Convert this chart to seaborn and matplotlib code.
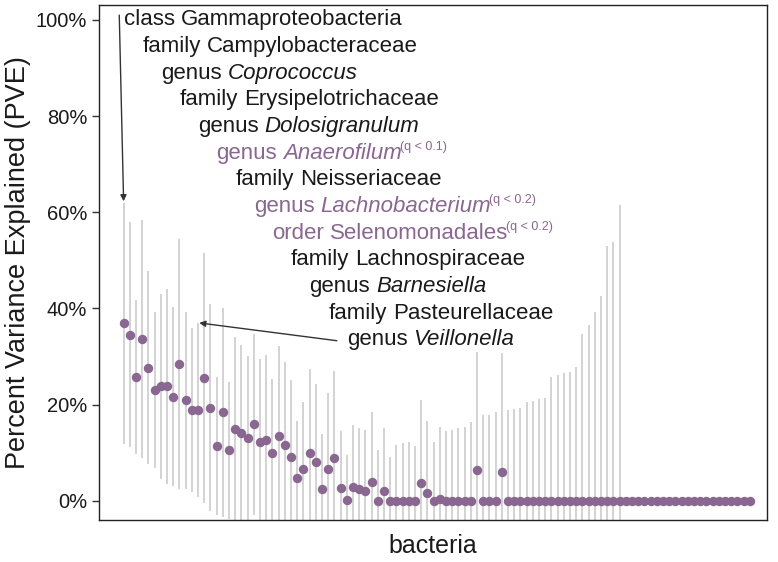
import seaborn as sns
import matplotlib.pyplot as plt
import pandas as pd
import numpy as np

# PVE point estimates (%) for each bacterium, sorted as in the figure
pve = [36.9, 34.5, 25.8, 33.6, 27.7, 23.1, 23.8, 23.8, 21.7, 28.5,
       20.9, 18.9, 18.9, 25.6, 19.4, 11.4, 18.4, 10.5, 15.0, 14.2,
       13.0, 15.9, 12.3, 12.7, 10.0, 13.4, 11.6, 9.2, 4.8, 6.7,
       10.0, 8.0, 2.4, 6.6, 9.0, 2.6, 0.1, 2.8, 2.4, 2.1,
       4.0, 0.0, 2.1, 0.0, 0.0, 0.0, 0.0, 0.0, 3.8, 1.6,
       0.0, 0.35, 0.0, 0.0, 0.0, 0.0, 0.0, 6.4, 0.0, 0.0,
       0.0, 6.0, 0.0, 0.0, 0.0, 0.0, 0.0, 0.0, 0.0, 0.0,
       0.0, 0.0, 0.0, 0.0, 0.0, 0.0, 0.0, 0.0, 0.0, 0.0,
       0.0, 0.0, 0.0, 0.0, 0.0, 0.0, 0.0, 0.0, 0.0, 0.0,
       0.0, 0.0, 0.0, 0.0, 0.0, 0.0, 0.0, 0.0, 0.0, 0.0,
       0.0, 0.0]

# half-width of the interval (%) for the first bacteria (the rest have none)
ci_half = [25.0, 23.4, 16.0, 24.7, 20.1, 16.2, 19.2, 20.2, 18.7, 26.0,
           18.4, 17.1, 18.1, 26.0, 21.5, 14.3, 21.8, 14.3, 19.0, 18.2,
           17.2, 18.8, 17.2, 17.7, 15.4, 18.7, 17.2, 16.0, 11.9, 13.9,
           17.4, 16.3, 11.5, 15.8, 18.1, 12.0, 9.5, 12.9, 12.7, 12.7,
           14.4, 10.5, 13.0, 9.1, 11.6, 12.0, 12.3, 11.5, 17.1, 15.1,
           12.3, 15.0, 14.6, 14.8, 15.1, 15.3, 16.5, 24.5, 17.9, 17.9,
           18.4, 24.7, 18.9, 19.1, 19.4, 20.6, 20.8, 21.1, 21.3, 25.7,
           26.1, 26.5, 26.7, 27.9, 34.7, 36.6, 39.2, 42.6, 52.9, 53.8,
           61.5]

# labelled taxa (top ranked)
label_rank = ["class", "family", "genus", "family", "genus", "genus", "family",
              "genus", "order", "family", "genus", "family", "genus"]
label_name = ["Gammaproteobacteria", "Campylobacteraceae", "Coprococcus",
              "Erysipelotrichaceae", "Dolosigranulum", "Anaerofilum",
              "Neisseriaceae", "Lachnobacterium", "Selenomonadales",
              "Lachnospiraceae", "Barnesiella", "Pasteurellaceae", "Veillonella"]
label_q = ["", "", "", "", "", "(q < 0.1)", "", "(q < 0.2)", "(q < 0.2)",
           "", "", "", ""]

purple = "#8a6790"
dark = "#1a1a1a"

df = pd.DataFrame({"bacteria": np.arange(len(pve)), "pve": pve})
n_ci = len(ci_half)
lo = df["pve"][:n_ci] - np.array(ci_half)
hi = df["pve"][:n_ci] + np.array(ci_half)

sns.set_theme(style="ticks")
plt.rcParams['font.family'] = ['Liberation Sans', 'DejaVu Sans']

fig, ax = plt.subplots(figsize=(7.78, 5.62), dpi=100)
fig.subplots_adjust(left=0.127, right=0.986, top=0.991, bottom=0.075)

ax.vlines(df["bacteria"][:n_ci], lo, hi, color="#cccccc", linewidth=1.2, zorder=1)
sns.scatterplot(data=df, x="bacteria", y="pve", color=purple, s=46,
                linewidth=0, ax=ax, zorder=3)

ax.set_xlim(-4, 103.8)
ax.set_ylim(-3.95, 103.1)
ax.set_xticks([])
ax.set_yticks([0, 20, 40, 60, 80, 100])
ax.set_yticklabels([f"{v}%" for v in [0, 20, 40, 60, 80, 100]])
ax.tick_params(axis="y", labelsize=14.5, length=5, width=1, colors="#333333",
               labelcolor=dark)
for s in ax.spines.values():
    s.set_visible(True)
    s.set_color("#222222")
    s.set_linewidth(1)
ax.set_xlabel("bacteria", fontsize=18, color=dark, labelpad=10)
ax.set_ylabel("Percent Variance Explained (PVE)", fontsize=19.5, color=dark,
              labelpad=3)

# staircase of labels
for i in range(len(label_name)):
    col = purple if label_q[i] else dark
    x0 = 3 * i
    y0 = 100 - 5.54 * i
    t = ax.text(x0, y0, label_rank[i], fontsize=16, color=col, va="center",
                ha="left", zorder=4)
    style = "italic" if label_rank[i] == "genus" else "normal"
    t2 = ax.annotate(label_name[i], xy=(1, 0), xycoords=t, xytext=(4.4, 0),
                     textcoords="offset points", fontsize=16, color=col,
                     style=style, va="bottom", ha="left")
    if label_q[i]:
        ax.annotate(label_q[i], xy=(1, 0.5), xycoords=t2, xytext=(-1.5, 0),
                    textcoords="offset points", fontsize=9, color=col,
                    va="bottom", ha="left")

arrow = dict(arrowstyle="-|>", color="#333333", lw=1, mutation_scale=9,
             shrinkA=0, shrinkB=0)
ax.annotate("", xy=(0, 62.3), xytext=(-0.7, 101.0), arrowprops=arrow)
ax.annotate("", xy=(12.2, 37.0), xytext=(34.4, 33.3), arrowprops=arrow)

plt.savefig("out.png", dpi=100)
plt.close()
